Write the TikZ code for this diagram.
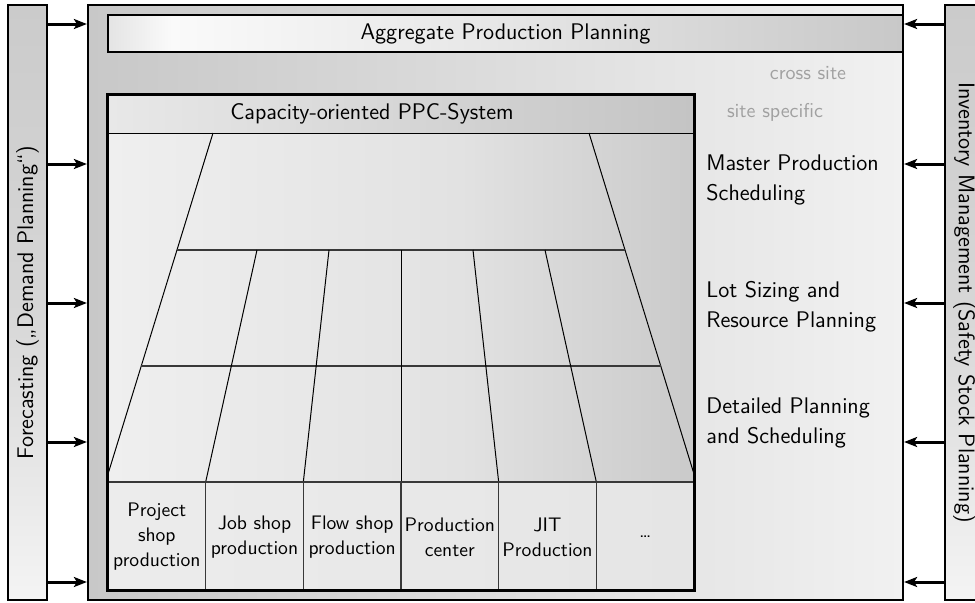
\documentclass[tikz,border=0pt]{standalone}
\usetikzlibrary{arrows.meta,fit,calc}

% greys of the shaded boxes
\definecolor{barTop}{HTML}{CBCBCB}
\definecolor{barMid}{HTML}{D6D6D6}
\definecolor{barBot}{HTML}{F4F4F4}
\definecolor{mainL}{HTML}{C8C8C8}
\definecolor{mainR}{HTML}{F1F1F1}
\definecolor{aggA}{HTML}{E4E4E4}
\definecolor{aggB}{HTML}{FAFAFA}
\definecolor{aggC}{HTML}{E6E6E6}
\definecolor{aggD}{HTML}{C8C8C8}
\definecolor{headL}{HTML}{E8E8E8}
\definecolor{headR}{HTML}{C4C4C4}
\definecolor{bodyA}{HTML}{EFEFEF}
\definecolor{bodyB}{HTML}{E2E2E2}
\definecolor{bodyC}{HTML}{CACACA}
\definecolor{cellL}{HTML}{ECECEC}
\definecolor{cellR}{HTML}{E5E5E5}
\definecolor{gridgray}{HTML}{383838}
\definecolor{notegray}{HTML}{A0A0A0}

\pgfdeclarehorizontalshading{aggshade}{100bp}{color(0bp)=(aggA); color(25bp)=(aggA);
  color(29bp)=(aggB); color(50bp)=(aggC); color(75bp)=(aggD); color(100bp)=(aggD)}
\pgfdeclarehorizontalshading{bodyshade}{100bp}{color(0bp)=(bodyA); color(25bp)=(bodyA);
  color(55bp)=(bodyB); color(75bp)=(bodyC); color(100bp)=(bodyC)}

\tikzset{
  frame/.style={draw=black, line width=1.3pt, inner sep=0pt},
  sidebar/.style={frame, top color=barTop, bottom color=barBot, middle color=barMid},
  lbl/.style={font=\sffamily\fontsize{11.3}{15}\selectfont, inner sep=0pt},
  note/.style={font=\sffamily\fontsize{10}{12}\selectfont, text=notegray, inner sep=0pt},
  celltxt/.style={font=\sffamily\fontsize{9.8}{12.5}\selectfont, align=center, inner sep=0pt},
  cell/.style={draw=gridgray, line width=0.8pt, inner sep=0pt},
  slant/.style={draw=black, line width=0.5pt},
  rowline/.style={draw=gridgray, line width=0.75pt},
  flow/.style={line width=1.5pt, -{Stealth[length=6.5pt, width=5pt, inset=1.5pt]}}
}

\begin{document}
\begin{tikzpicture}[x=0.5pt, y=-0.5pt]
\path[use as bounding box, clip] (0,0) rectangle (975,602);

% side bars
\node[sidebar, fit={(8,5) (47,600)}] (fc) {};
\node[sidebar, fit={(945,5) (984,600)}] (inv) {};
\node[lbl, rotate=90] (fctxt) at (fc.center) {Forecasting („Demand Planning“)};
\node[lbl, rotate=-90] (invtxt) at (inv.center) {Inventory Management (Safety Stock Planning)};

% planning frame
\node[draw=black, line width=1.1pt, inner sep=0pt, left color=mainL, right color=mainR,
      fit={(88,5) (903,600)}] (main) {};
\node[frame, shading=aggshade, fit={(108,15) (903,52)}] (agg) {};
\node[lbl] (aggtxt) at (agg.center) {Aggregate Production Planning};

% capacity-oriented system: body, header
\node[inner sep=0pt, shading=bodyshade, fit={(108,95) (694,590)}] (ppc) {};
\node[inner sep=0pt, left color=headL, right color=headR, fit={(108,95) (694,133)}] (head) {};
\draw[slant] (head.south west) -- (head.south east);
\node[lbl] (headtxt) at (372,114) {Capacity-oriented PPC-System};

% perspective grid
\coordinate (L0) at (213,133);
\coordinate (L1) at (108,474);
\coordinate (R0) at (589,133);
\coordinate (R1) at (694,474);
\draw[slant] (L0) -- (L1);
\draw[slant] (R0) -- (R1);
\draw[rowline] ($(L0)!0.3431!(L1)$) -- ($(R0)!0.3431!(R1)$);
\draw[rowline] ($(L0)!0.6833!(L1)$) -- ($(R0)!0.6833!(R1)$);
\foreach \tx/\bx in {257/205.67, 329/303.33, 401/401, 473/498.67, 545/596.33}
  \draw[slant] (\tx,250) -- (\bx,482);

% production types
\fill[left color=cellL, right color=cellR] (108,482) rectangle (694,590);
\foreach \i/\txt in {0/{Project\\shop\\production}, 1/{Job shop\\production},
                     2/{Flow shop\\production}, 3/{Production\\center},
                     4/{JIT\\Production}, 5/{\dots}} {
  \node[cell, fit={({108+97.667*\i},482) ({108+97.667*(\i+1)},590)}] (c\i) {};
  \node[celltxt] (t\i) at ($(c\i.center)+(0,1)$) {\txt};
}
\draw[rowline] (108,482) -- (694,482);
\draw[frame] (ppc.north west) rectangle (ppc.south east);

% planning levels
\node[note] (cross) at (808,73) {cross site};
\node[note] (site) at (775,112) {site specific};
\node[lbl, anchor=west, align=left] (mps) at (706,180) {Master Production\\Scheduling};
\node[lbl, anchor=west, align=left] (lot) at (706,307) {Lot Sizing and\\Resource Planning};
\node[lbl, anchor=west, align=left] (dps) at (706,423) {Detailed Planning\\and Scheduling};

% information flows into the planning frame
\foreach \yy in {24,164,303,442,582} {
  \draw[flow] (fc.east |- 0,\yy) -- (main.west |- 0,\yy);
  \draw[flow] (inv.west |- 0,\yy) -- (main.east |- 0,\yy);
}
\end{tikzpicture}
\end{document}
